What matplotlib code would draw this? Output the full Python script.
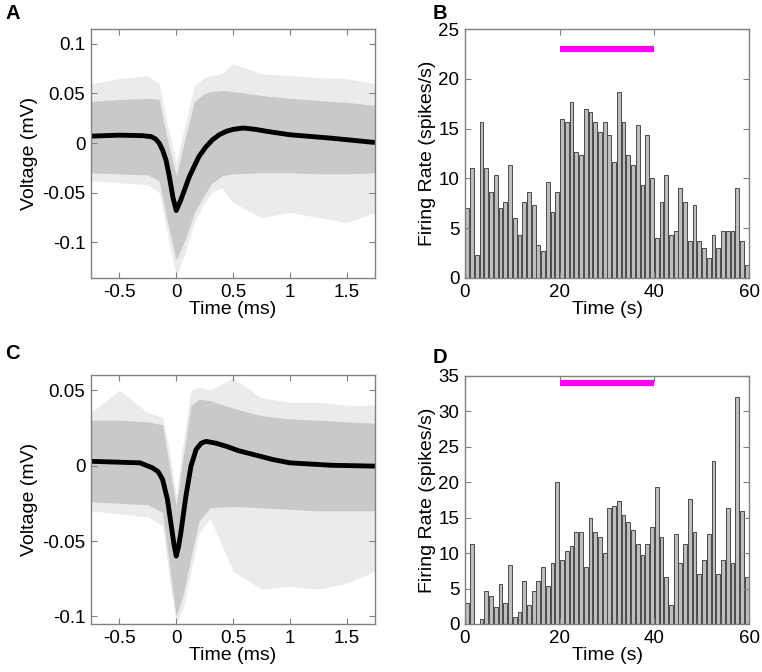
import numpy as np
import matplotlib
matplotlib.use("Agg")
import matplotlib.pyplot as plt

plt.rcParams['font.family'] = ['Liberation Sans', 'DejaVu Sans']

# ---- waveform panel A (time in ms, voltage in mV) ----
a_mean_t = [-0.75, -0.5, -0.3, -0.22, -0.18, -0.15, -0.12, -0.09, -0.06, -0.03, 0.0,
            0.04, 0.08, 0.115, 0.16, 0.2, 0.26, 0.32, 0.38, 0.44, 0.5, 0.59, 0.7, 0.8,
            1.0, 1.36, 1.75]
a_mean_v = [0.007, 0.008, 0.0075, 0.0065, 0.004, 0.0, -0.007, -0.017, -0.034, -0.054,
            -0.068, -0.0575, -0.045, -0.034, -0.023, -0.0136, -0.004, 0.0034, 0.0085,
            0.0118, 0.0138, 0.0152, 0.0138, 0.0118, 0.0084, 0.005, 0.0006]

a_env_t = [-0.75, -0.5, -0.25, -0.15, -0.08, 0.0, 0.08, 0.16, 0.25, 0.31, 0.4, 0.5,
           0.75, 1.0, 1.25, 1.5, 1.75]
a_dense_hi = [0.042, 0.044, 0.045, 0.044, 0.005, -0.033, 0.005, 0.042, 0.05, 0.052, 0.053,
              0.052, 0.048, 0.045, 0.043, 0.041, 0.038]
a_dense_lo = [-0.03, -0.031, -0.032, -0.038, -0.078, -0.118, -0.097, -0.07, -0.052,
              -0.041, -0.033, -0.031, -0.03, -0.03, -0.031, -0.031, -0.03]
a_sparse_hi = [0.06, 0.065, 0.068, 0.06, 0.02, -0.02, 0.02, 0.058, 0.066, 0.068, 0.07,
               0.08, 0.07, 0.068, 0.066, 0.065, 0.06]
a_sparse_lo = [-0.038, -0.04, -0.042, -0.05, -0.09, -0.134, -0.11, -0.08, -0.06, -0.05,
               -0.045, -0.06, -0.075, -0.07, -0.075, -0.08, -0.07]

# ---- waveform panel C ----
c_mean_t = [-0.75, -0.32, -0.21, -0.16, -0.12, -0.077, -0.047, -0.02, 0.0, 0.02, 0.041,
            0.086, 0.13, 0.175, 0.22, 0.263, 0.35, 0.44, 0.55, 0.68, 0.85, 1.0, 1.36, 1.75]
c_mean_v = [0.0028, 0.0018, -0.0015, -0.004, -0.0092, -0.0225, -0.038, -0.052, -0.060,
            -0.054, -0.0445, -0.020, -0.0004, 0.0106, 0.0148, 0.016, 0.0148, 0.0128,
            0.0098, 0.0073, 0.004, 0.0018, 0.0002, -0.0004]

c_env_t = [-0.75, -0.5, -0.25, -0.12, -0.06, 0.0, 0.06, 0.13, 0.2, 0.3, 0.5, 0.75,
           1.0, 1.25, 1.5, 1.75]
c_dense_hi = [0.03, 0.03, 0.029, 0.027, 0.0, -0.027, 0.005, 0.04, 0.044, 0.043,
              0.038, 0.033, 0.031, 0.03, 0.029, 0.028]
c_dense_lo = [-0.024, -0.025, -0.026, -0.031, -0.066, -0.1, -0.086, -0.061, -0.037,
              -0.028, -0.027, -0.028, -0.029, -0.03, -0.03, -0.03]
c_sparse_hi = [0.035, 0.05, 0.035, 0.032, 0.01, -0.02, 0.015, 0.05, 0.052, 0.05, 0.058,
               0.045, 0.042, 0.042, 0.04, 0.04]
c_sparse_lo = [-0.03, -0.032, -0.034, -0.04, -0.075, -0.104, -0.095, -0.07, -0.045,
               -0.035, -0.07, -0.082, -0.08, -0.082, -0.078, -0.07]

# ---- firing-rate histograms (1 s bins, 0-60 s) ----
b_rate = [7.0, 11.0, 2.33, 15.67, 11.0, 8.67, 10.33, 7.0, 7.67, 11.33,
          6.0, 4.33, 7.67, 8.67, 7.33, 3.33, 2.67, 9.67, 6.67, 8.67,
          16.0, 15.67, 17.67, 12.67, 12.33, 17.0, 16.67, 15.67, 14.67, 15.67,
          14.33, 11.67, 18.67, 15.67, 12.33, 11.33, 15.33, 9.33, 14.33, 10.0,
          4.0, 7.67, 10.33, 4.33, 4.67, 9.0, 7.67, 3.67, 7.33, 3.67,
          3.0, 2.0, 4.33, 3.0, 4.67, 4.67, 4.67, 9.0, 3.67, 1.33]
d_rate = [3.0, 11.33, 0.0, 0.67, 4.67, 4.0, 2.33, 5.67, 3.0, 8.33,
          1.0, 1.67, 6.0, 2.67, 4.67, 6.0, 8.0, 5.33, 8.67, 20.0,
          9.0, 10.33, 11.0, 13.0, 13.0, 8.0, 15.0, 13.0, 12.33, 10.0,
          16.33, 16.67, 17.33, 15.33, 14.33, 13.33, 11.33, 9.67, 11.33, 13.67,
          19.33, 12.33, 6.67, 2.67, 12.67, 8.67, 11.33, 17.67, 13.0, 7.0,
          9.0, 12.67, 23.0, 7.0, 9.0, 16.33, 8.67, 32.0, 16.0, 6.67]
stim_window = [20, 40]
b_stim_level = 23
d_stim_level = 34

W, H = 762, 672
fig = plt.figure(figsize=(W / 100, H / 100), dpi=100)


def box_axes(l, t, r, b):
    ax = fig.add_axes([l / W, 1 - b / H, (r - l) / W, (b - t) / H])
    for s in ax.spines.values():
        s.set_color('#808080')
        s.set_linewidth(1.0)
    ax.tick_params(direction='in', top=True, right=True, color='#808080',
                   labelsize=13.5, length=4, pad=4, labelcolor='black')
    return ax


def wave_panel(ax, et, shi, slo, dhi, dlo, mt, mv, ylim, yticks, ylabels):
    ax.fill_between(et, slo, shi, color='#ebebeb', lw=0)
    ax.fill_between(et, dlo, dhi, color='#c9c9c9', lw=0)
    ax.plot(mt, mv, color='black', lw=3.5, solid_capstyle='butt', solid_joinstyle='round')
    ax.set_xlim(-0.75, 1.75)
    ax.set_ylim(*ylim)
    ax.set_xticks([-0.5, 0, 0.5, 1, 1.5])
    ax.set_xticklabels(['-0.5', '0', '0.5', '1', '1.5'])
    ax.set_yticks(yticks)
    ax.set_yticklabels(ylabels)
    ax.set_xlabel('Time (ms)', fontsize=14, labelpad=0)
    ax.set_ylabel('Voltage (mV)', fontsize=14, labelpad=3)


def rate_panel(ax, rate, level, ymax, yticks):
    x = np.arange(len(rate)) + 0.5
    ax.bar(x, rate, width=0.8, color='#bdbdbd', edgecolor='#4a4a4a', linewidth=0.7)
    ax.plot(stim_window, [level, level], color='#ff00ff', lw=4.5, solid_capstyle='butt')
    ax.set_xlim(0, 60)
    ax.set_ylim(0, ymax)
    ax.set_xticks([0, 20, 40, 60])
    ax.set_yticks(yticks)
    ax.set_xlabel('Time (s)', fontsize=14, labelpad=0)
    ax.set_ylabel('Firing Rate (spikes/s)', fontsize=14, labelpad=2)


ax_a = box_axes(91, 29, 375, 278)
wave_panel(ax_a, a_env_t, a_sparse_hi, a_sparse_lo, a_dense_hi, a_dense_lo,
           a_mean_t, a_mean_v, (-0.136, 0.115), [-0.1, -0.05, 0, 0.05, 0.1],
           ['-0.1', '-0.05', '0', '0.05', '0.1'])

ax_b = box_axes(465, 29, 749, 278)
rate_panel(ax_b, b_rate, b_stim_level, 25, [0, 5, 10, 15, 20, 25])

ax_c = box_axes(91, 375, 375, 624)
wave_panel(ax_c, c_env_t, c_sparse_hi, c_sparse_lo, c_dense_hi, c_dense_lo,
           c_mean_t, c_mean_v, (-0.105, 0.06), [-0.1, -0.05, 0, 0.05],
           ['-0.1', '-0.05', '0', '0.05'])

ax_d = box_axes(465, 376, 749, 624)
rate_panel(ax_d, d_rate, d_stim_level, 35, [0, 5, 10, 15, 20, 25, 30, 35])

for lab, x, y in [('A', 5, 4), ('B', 433, 4), ('C', 5, 344), ('D', 433, 348)]:
    fig.text(x / W, 1 - y / H, lab, fontsize=14.5, fontweight='bold', va='top')

fig.savefig('out.png', dpi=100)
